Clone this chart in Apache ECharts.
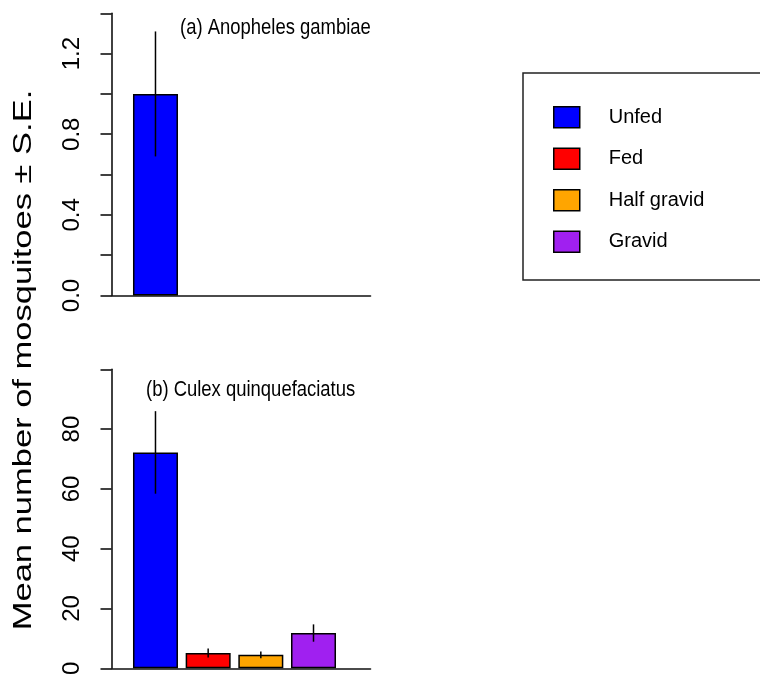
<!DOCTYPE html>
<html>
<head>
<meta charset="utf-8">
<script src="https://cdn.jsdelivr.net/npm/echarts@6/dist/echarts.min.js"></script>
<style>html,body{margin:0;padding:0;background:#fff}#c{width:760px;height:678px}</style>
</head>
<body>
<div id="c"></div>
<script>
// ---- data ----
const categories = ['Unfed', 'Fed', 'Half gravid', 'Gravid'];
const barColors = ['#0000FF', '#FF0000', '#FFA500', '#A020F0'];
const anophelesMean = [1.0, 0, 0, 0];
const anophelesSE = [0.31, 0, 0, 0];
const culexMean = [72.2, 5.1, 4.5, 11.8];
const culexSE = [13.8, 1.5, 1.1, 2.9];
const anophelesTickLabels = ['0.0', '0.4', '0.8', '1.2'];
const culexTickLabels = ['0', '20', '40', '60', '80'];
const panelTitles = ['(a) Anopheles gambiae', '(b) Culex quinquefaciatus'];
const yTitle = 'Mean number of mosquitoes \u00B1 S.E.';

const SANS = '"Liberation Sans", Arial, sans-serif';

const chart = echarts.init(document.getElementById('c'), null, {renderer: 'canvas'});

function xAxisFor(gi) {
  return {
    type: 'value', gridIndex: gi, min: -0.835, max: 4.082,
    axisLine: {show: true, onZero: false, lineStyle: {color: '#111', width: 1.6}},
    axisTick: {show: false}, axisLabel: {show: false}, splitLine: {show: false}
  };
}
function yAxisFor(gi, max, interval, labels, digits) {
  return {
    type: 'value', gridIndex: gi, min: 0, max: max, interval: interval,
    axisLine: {show: true, onZero: false, lineStyle: {color: '#111', width: 1.6}},
    axisTick: {show: true, inside: false, length: 11, lineStyle: {color: '#111', width: 1.6}},
    splitLine: {show: false},
    axisLabel: {
      show: true, rotate: 90, margin: 27, color: '#000',
      fontFamily: SANS, fontSize: 24,
      formatter: function (v) {
        const s = v.toFixed(digits);
        return labels.indexOf(s) >= 0 ? s : '';
      }
    }
  };
}

const series = [];
[[anophelesMean, anophelesSE], [culexMean, culexSE]].forEach(function (pair, gi) {
  const means = pair[0], ses = pair[1];
  categories.forEach(function (name, i) {
    series.push({
      type: 'bar', name: name, xAxisIndex: gi, yAxisIndex: gi,
      barWidth: 45, barGap: '-100%',
      itemStyle: {color: barColors[i], borderColor: '#000', borderWidth: 1.5},
      emphasis: {disabled: true},
      // zero-height bars are not drawn (they would sit on the axis line)
      data: means[i] > 0 ? [[i, means[i]]] : []
    });
  });
  const errData = [];
  means.forEach(function (m, i) { if (ses[i] > 0) errData.push([i, m, ses[i]]); });
  series.push({
    type: 'custom', xAxisIndex: gi, yAxisIndex: gi, z: 10, silent: true,
    encode: {x: 0, y: 1},
    renderItem: function (params, api) {
      const x = api.value(0), m = api.value(1), se = api.value(2);
      const p1 = api.coord([x, m + se]);
      const p2 = api.coord([x, m - se]);
      return {type: 'line', shape: {x1: p1[0], y1: p1[1], x2: p2[0], y2: p2[1]},
              style: {stroke: '#000', lineWidth: 1.5}};
    },
    data: errData
  });
});

chart.setOption({
  animation: false,
  backgroundColor: '#fff',
  grid: [
    {left: 111.5, right: 389.5, top: 13.3, bottom: 382.5},
    {left: 111.5, right: 389.5, top: 369.3, bottom: 6.3}
  ],
  xAxis: [xAxisFor(0), xAxisFor(1)],
  yAxis: [
    yAxisFor(0, 1.4, 0.2, anophelesTickLabels, 1),
    yAxisFor(1, 100, 20, culexTickLabels, 0)
  ],
  legend: {
    orient: 'vertical', left: 523, top: 73,
    data: categories,
    padding: [33, 100, 27, 30],
    itemWidth: 26, itemHeight: 21, itemGap: 19,
    icon: 'rect',
    itemStyle: {borderColor: '#000', borderWidth: 1.5},
    borderColor: '#222', borderWidth: 1.5,
    selectedMode: false,
    textStyle: {fontFamily: SANS, fontSize: 20, color: '#000', lineHeight: 21, padding: [0, 0, 0, 24]}
  },
  graphic: [
    {
      type: 'text', x: 24, y: 360, rotation: Math.PI / 2, scaleX: 1.38,
      style: {text: yTitle, font: '25px ' + SANS, fill: '#000', textAlign: 'center', textVerticalAlign: 'middle'}
    },
    {
      type: 'text', x: 180, y: 28, scaleX: 0.82,
      style: {text: panelTitles[0], font: '22.5px ' + SANS, fill: '#000', textAlign: 'left', textVerticalAlign: 'middle'}
    },
    {
      type: 'text', x: 146, y: 390, scaleX: 0.82,
      style: {text: panelTitles[1], font: '22.5px ' + SANS, fill: '#000', textAlign: 'left', textVerticalAlign: 'middle'}
    }
  ],
  series: series
});
</script>
</body>
</html>
